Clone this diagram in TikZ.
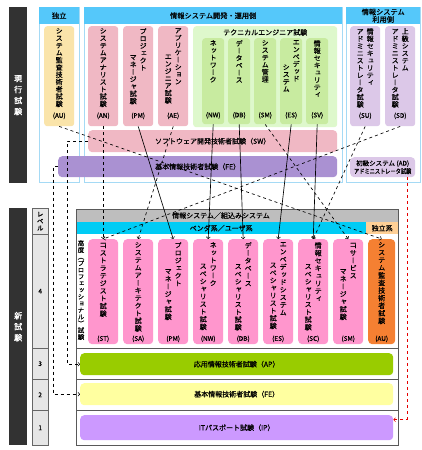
\documentclass[tikz,border=0pt]{standalone}
\usepackage{fontspec}
\setmainfont{Noto Sans CJK JP}[FakeBold=0.5, AutoFakeBold=1.5]
\newfontfamily\tatefont[RawFeature=+vert, FakeBold=0.5, AutoFakeBold=1.5]{Noto Sans CJK JP}
\usetikzlibrary{arrows}
\usetikzlibrary{positioning}

\definecolor{hdrblue}{RGB}{85,200,250}
\definecolor{frameblue}{RGB}{165,218,245}
\definecolor{auyellow}{RGB}{250,228,170}
\definecolor{oldpink}{RGB}{240,184,196}
\definecolor{techgreen}{RGB}{222,248,204}
\definecolor{techinner}{RGB}{200,235,160}
\definecolor{oldlilac}{RGB}{220,200,232}
\definecolor{fepurple}{RGB}{170,145,210}
\definecolor{newgray}{RGB}{190,190,190}
\definecolor{vendorcyan}{RGB}{0,204,245}
\definecolor{indeppeach}{RGB}{255,208,150}
\definecolor{newpink}{RGB}{255,150,205}
\definecolor{auorange}{RGB}{245,128,50}
\definecolor{apgreen}{RGB}{153,204,0}
\definecolor{feyellow}{RGB}{255,255,160}
\definecolor{iplilac}{RGB}{204,153,255}
\definecolor{barblack}{RGB}{50,50,50}
\definecolor{cellgray}{RGB}{230,230,230}

\newdimen\tatepitch \tatepitch=7.6pt
\newcommand{\tate}[1]{\vtop{\tatefont\baselineskip=\tatepitch\lineskiplimit=-\maxdimen\tateloop#1\relax}}
\newcommand{\tateloop}[1]{\ifx\relax#1\else\hbox to 8pt{\hss#1\hss}\expandafter\tateloop\fi}
\newcommand{\tateIT}{\rotatebox[origin=c]{-90}{IT}}

\tikzset{
  blackbar/.style={fill=barblack, text=white, anchor=north west, minimum width=18pt, inner sep=0pt, font={\fontsize{8}{8}\selectfont\bfseries\tatepitch=11pt}},
  oldhead/.style={fill=hdrblue, anchor=north west, inner sep=0pt, align=center, font=\fontsize{7.2}{7.5}\selectfont},
  oldframe/.style={draw=frameblue, line width=0.8pt},
  oldbox/.style={rounded corners=3pt, anchor=north west, minimum width=30pt, minimum height=100pt, inner sep=0pt},
  techbox/.style={rounded corners=3pt, fill=techinner, anchor=north west, minimum width=22pt, minimum height=86pt, inner sep=0pt},
  oldbar/.style={rounded corners=4pt, anchor=north west, inner sep=0pt, font=\fontsize{7}{8}\selectfont},
  oldtext/.style={inner sep=0pt, font={\fontsize{7}{7}\selectfont\tatepitch=7.3pt}},
  newtext/.style={inner sep=0pt, font={\fontsize{7}{7}\selectfont\tatepitch=7.6pt}},
  codetext/.style={inner sep=0pt, font=\fontsize{6.5}{7}\selectfont},
  lvcell/.style={fill=cellgray, draw=gray!80!black, anchor=north west, minimum width=16pt, inner sep=0pt, font={\fontsize{6.5}{7}\selectfont\tatepitch=7pt}},
  band/.style={anchor=north west, inner sep=0pt, font=\fontsize{7}{7}\selectfont},
  newframe/.style={draw=gray!70!black, line width=0.8pt},
  newbox/.style={rounded corners=4pt, fill=newpink, anchor=north west, minimum width=30pt, minimum height=105pt, inner sep=0pt},
  rowbox/.style={rounded corners=4pt, anchor=north west, minimum width=313pt, inner sep=0pt, font=\fontsize{7}{8}\selectfont},
  solidarrow/.style={->, line width=0.65pt},
  dasharrow/.style={->, dashed, line width=0.65pt},
  redarrow/.style={->, dashed, line width=0.65pt, draw=red!90!black}
}

\begin{document}
\begin{tikzpicture}[x=1pt, y=-1pt]
  \fill[white] (0,0) rectangle (422,450);
  \useasboundingbox (0,0) rectangle (422,450);

  \node[blackbar, minimum height=176pt] (barOld) at (9,7) {\tate{現行試験}};

  \draw[oldframe] (39,7) rectangle (79,182);
  \draw[oldframe] (84,7) rectangle (342,182);
  \draw[oldframe] (346,7) rectangle (420,182);
  \node[oldhead, minimum width=40pt, minimum height=17pt] (hIndep) at (39,7) {独立};
  \node[oldhead, minimum width=258pt, minimum height=17pt] (hDev) at (84,7) {情報システム開発・運用側};
  \node[oldhead, minimum width=74pt, minimum height=17pt] (hUser) at (346,7) {情報システム\\利用側};

  \node[oldbox, fill=auyellow] (oAU) at (44,26) {};
  \node[oldtext, below=2pt of oAU.north] (oAUt) {\tate{システム監査技術者試験}};
  \node[codetext, above=7pt of oAU.south] (oAUc) {(AU)};

  \node[oldbox, fill=oldpink] (oAN) at (88,26) {};
  \node[oldtext, below=2pt of oAN.north] (oANt) {\tate{システムアナリスト試験}};
  \node[codetext, above=7pt of oAN.south] (oANc) {(AN)};

  \node[oldbox, fill=oldpink] (oPM) at (123,26) {};
  \node[oldtext, below=2pt of oPM.north] (oPMt) {\raisebox{-26pt}{\tate{マネージャ試験}}\hspace{2pt}\tate{プロジェクト}};
  \node[codetext, above=7pt of oPM.south] (oPMc) {(PM)};

  \node[oldbox, fill=oldpink] (oAE) at (158,26) {};
  \node[oldtext, below=2pt of oAE.north] (oAEt) {\raisebox{-26pt}{\tate{エンジニア試験}}\hspace{2pt}\tate{アプリケーション}};
  \node[codetext, above=7pt of oAE.south] (oAEc) {(AE)};

  \node[oldbox, fill=techgreen, minimum width=144pt, minimum height=101pt] (oTE) at (193,26) {};
  \node[codetext, font=\fontsize{7}{7}\selectfont, below=3pt of oTE.north] (oTEt) {テクニカルエンジニア試験};

  \node[techbox] (oNW) at (202,38) {};
  \node[oldtext, below=2pt of oNW.north] (oNWt) {\tate{ネットワーク}};
  \node[codetext, above=5.5pt of oNW.south] (oNWc) {(NW)};

  \node[techbox] (oDB) at (228,38) {};
  \node[oldtext, below=2pt of oDB.north] (oDBt) {\tate{データベース}};
  \node[codetext, above=5.5pt of oDB.south] (oDBc) {(DB)};

  \node[techbox] (oSM) at (254,38) {};
  \node[oldtext, below=2pt of oSM.north] (oSMt) {\tate{システム管理}};
  \node[codetext, above=5.5pt of oSM.south] (oSMc) {(SM)};

  \node[techbox] (oES) at (280,38) {};
  \node[oldtext, below=2pt of oES.north] (oESt) {\raisebox{-25pt}{\tate{システム}}\hspace{2pt}\tate{エンベデッド}};
  \node[codetext, above=5.5pt of oES.south] (oESc) {(ES)};

  \node[techbox] (oSV) at (306,38) {};
  \node[oldtext, below=2pt of oSV.north] (oSVt) {\tate{情報セキュリティ}};
  \node[codetext, above=5.5pt of oSV.south] (oSVc) {(SV)};

  \node[oldbox, fill=oldlilac] (oSU) at (350,26) {};
  \node[oldtext, below=2pt of oSU.north] (oSUt) {\tate{アドミニストレータ試験}\hspace{2pt}\tate{情報セキュリティ}};
  \node[codetext, above=7pt of oSU.south] (oSUc) {(SU)};

  \node[oldbox, fill=oldlilac] (oSD) at (385,26) {};
  \node[oldtext, below=2pt of oSD.north] (oSDt) {\tate{アドミニストレータ試験}\hspace{2pt}\tate{上級システム}};
  \node[codetext, above=7pt of oSD.south] (oSDc) {(SD)};

  \node[oldbar, fill=oldpink, minimum width=249pt, minimum height=22pt] (oSW) at (88,130) {ソフトウェア開発技術者試験（SW）};
  \node[oldbar, fill=fepurple, minimum width=279pt, minimum height=21pt] (oFE) at (58,156) {基本情報技術者試験（FE）};
  \node[oldbar, fill=oldlilac, minimum width=65pt, minimum height=20pt, align=center, font=\fontsize{6.5}{8}\selectfont] (oAD) at (350,157) {初級システム (AD)\\\scalebox{0.8}[1]{アドミニストレータ試験}};

  \node[blackbar, minimum height=237pt] (barNew) at (9,208) {\tate{新試験}};

  \node[lvcell, minimum height=26pt] (lvHead) at (32,208) {\tate{レベル}};
  \node[lvcell, minimum height=114pt] (lv4) at (32,234) {4};
  \node[lvcell, minimum height=31pt] (lv3) at (32,348) {3};
  \node[lvcell, minimum height=31pt] (lv2) at (32,379) {2};
  \node[lvcell, minimum height=35pt] (lv1) at (32,410) {1};

  \node[band, fill=newgray, minimum width=322pt, minimum height=13pt] (nSys) at (76,209) {};
  \node[band, anchor=center] (nSyst) at (221,215.5) {情報システム／組込みシステム};
  \node[band, fill=vendorcyan, minimum width=290pt, minimum height=12pt] (nVen) at (76,222) {ベンダ系／ユーザ系};
  \node[band, fill=indeppeach, minimum width=32pt, minimum height=12pt] (nInd) at (366,222) {独立系};
  \draw[newframe] (76,209) rectangle (398,445);
  \draw[newframe] (76,348) -- (398,348);
  \draw[newframe] (76,379) -- (398,379);
  \draw[newframe] (76,410) -- (398,410);

  \node[inner sep=0pt, anchor=north, font={\fontsize{6.5}{7}\selectfont\tatepitch=6.7pt}] (tAdv) at (81,240) {\tate{高度（プロフェッショナル）試験}};

  \node[newbox] (nST) at (88,239) {};
  \node[newtext, below=3pt of nST.north] (nSTt) {\tate{\tateIT ストラテジスト試験}};
  \node[codetext, above=2pt of nST.south] (nSTc) {(ST)};

  \node[newbox] (nSA) at (123,239) {};
  \node[newtext, below=3pt of nSA.north] (nSAt) {\tate{システムアーキテクト試験}};
  \node[codetext, above=2pt of nSA.south] (nSAc) {(SA)};

  \node[newbox] (nPM) at (158,239) {};
  \node[newtext, below=3pt of nPM.north] (nPMt) {\raisebox{-26pt}{\tate{マネージャ試験}}\hspace{2pt}\tate{プロジェクト}};
  \node[codetext, above=2pt of nPM.south] (nPMc) {(PM)};

  \node[newbox] (nNW) at (193,239) {};
  \node[newtext, below=3pt of nNW.north] (nNWt) {\raisebox{-21pt}{\tate{スペシャリスト試験}}\hspace{2pt}\tate{ネットワーク}};
  \node[codetext, above=2pt of nNW.south] (nNWc) {(NW)};

  \node[newbox] (nDB) at (228,239) {};
  \node[newtext, below=3pt of nDB.north] (nDBt) {\raisebox{-21pt}{\tate{スペシャリスト試験}}\hspace{2pt}\tate{データベース}};
  \node[codetext, above=2pt of nDB.south] (nDBc) {(DB)};

  \node[newbox] (nES) at (263,239) {};
  \node[newtext, below=3pt of nES.north] (nESt) {\raisebox{-21pt}{\tate{スペシャリスト試験}}\hspace{2pt}\tate{エンベデッドシステム}};
  \node[codetext, above=2pt of nES.south] (nESc) {(ES)};

  \node[newbox] (nSC) at (298,239) {};
  \node[newtext, below=3pt of nSC.north] (nSCt) {\raisebox{-21pt}{\tate{スペシャリスト試験}}\hspace{2pt}\tate{情報セキュリティ}};
  \node[codetext, above=2pt of nSC.south] (nSCc) {(SC)};

  \node[newbox] (nSM) at (333,239) {};
  \node[newtext, below=3pt of nSM.north] (nSMt) {\raisebox{-26pt}{\tate{マネージャ試験}}\hspace{2pt}\tate{\tateIT サービス}};
  \node[codetext, above=2pt of nSM.south] (nSMc) {(SM)};

  \node[newbox, fill=auorange, minimum width=27pt] (nAU) at (368,239) {};
  \node[newtext, below=3pt of nAU.north] (nAUt) {\tate{システム監査技術者試験}};
  \node[codetext, above=2pt of nAU.south] (nAUc) {(AU)};

  \node[rowbox, fill=apgreen, minimum height=22pt] (nAP) at (80,353) {応用情報技術者試験（AP）};
  \node[rowbox, fill=feyellow, minimum height=22pt] (nFE) at (80,383) {基本情報技術者試験（FE）};
  \node[rowbox, fill=iplilac, minimum height=25pt] (nIP) at (80,415) {ITパスポート試験（IP）};

  \coordinate (swx) at (67,0);
  \coordinate (fex) at (53,0);
  \coordinate (adx) at (407,0);

  \draw[dasharrow] (oAU.south) -- (nAU.north);
  \draw[dasharrow] (oAN.south) -- (nST.north);
  \draw[dasharrow] (oSD.south) -- (nST.north);
  \draw[dasharrow] (oAE.south) -- (nSA.north);
  \draw[solidarrow] (oPM.south) -- (nPM.north);
  \draw[solidarrow] (oNW.south) -- (nNW.north);
  \draw[solidarrow] (oDB.south) -- (nDB.north);
  \draw[dasharrow] (oSM.south) -- (nSM.north);
  \draw[solidarrow] (oES.south) -- (nES.north);
  \draw[solidarrow] (oSV.south) -- (nSC.north);
  \draw[dasharrow] (oSU.south) -- (nSC.north);
  \draw[dasharrow] (oSW.west) -- (oSW.west -| swx) |- (nAP.west);
  \draw[dasharrow] (oFE.west) -- (oFE.west -| fex) |- (nFE.west);
  \draw[redarrow] (oAD.south -| adx) |- ([yshift=8pt]nIP.east);
\end{tikzpicture}
\end{document}
